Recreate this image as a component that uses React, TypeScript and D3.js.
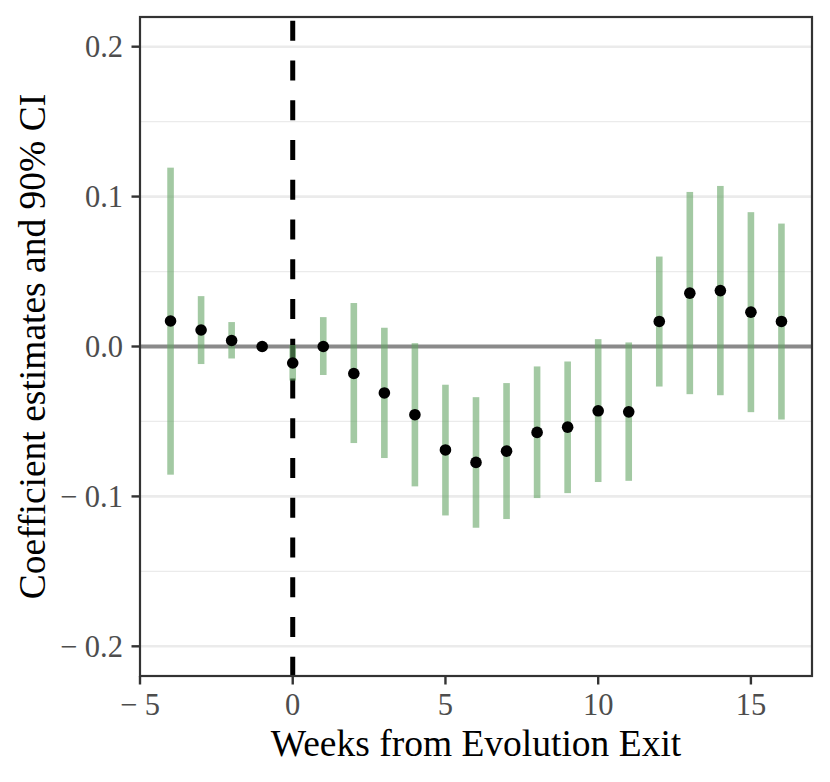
import React, { useRef, useEffect } from "react";
import * as d3 from "d3";

// event-study coefficients, week -1 is the reference period
const weeks = [-4, -3, -2, -1, 0, 1, 2, 3, 4, 5, 6, 7, 8, 9, 10, 11, 12, 13, 14, 15, 16];
const estimate = [
  0.017, 0.011, 0.004, 0, -0.011, 0, -0.018, -0.031, -0.0455, -0.069, -0.0773,
  -0.0698, -0.0573, -0.0538, -0.0429, -0.0436, 0.0167, 0.0356, 0.0373, 0.0229, 0.0167,
];
const lower = [
  -0.0855, -0.0117, -0.008, null, -0.0227, -0.019, -0.0644, -0.0744, -0.0933, -0.1127,
  -0.1209, -0.1151, -0.1011, -0.0978, -0.0904, -0.0896, -0.0267, -0.0318, -0.0325,
  -0.0438, -0.0487,
];
const upper = [
  0.1193, 0.0336, 0.0163, null, 0.001, 0.0196, 0.029, 0.0125, 0.0022, -0.0255, -0.0338,
  -0.0244, -0.0133, -0.01, 0.0049, 0.0027, 0.06, 0.1031, 0.1071, 0.0896, 0.082,
];
const xTicks = [-5, 0, 5, 10, 15];
const yTicks = [-0.2, -0.1, 0, 0.1, 0.2];
const yMinor = [-0.15, -0.05, 0.05, 0.15];

const FONT = "'Liberation Serif', 'DejaVu Serif', serif";

function fmtNum(v: number, digits: number) {
  const s = Math.abs(v).toFixed(digits);
  return v < 0 ? "\u2212 " + s : s;
}

export default function App() {
  const svgRef = useRef<SVGSVGElement>(null);

  useEffect(() => {
    if (!svgRef.current) return;
    const svg = d3.select(svgRef.current);
    svg.selectAll("*").remove();

    const width = 830;
    const height = 782;
    const margin = { top: 17, right: 18, bottom: 106, left: 140 };
    const w = width - margin.left - margin.right;
    const h = height - margin.top - margin.bottom;

    svg.attr("width", width).attr("height", height);
    svg.append("rect").attr("width", width).attr("height", height).attr("fill", "#fff");

    const x = d3.scaleLinear().domain([-5, 17]).range([0, w]);
    const y = d3.scaleLinear().domain([-0.2198, 0.2198]).range([h, 0]);

    const g = svg.append("g").attr("transform", `translate(${margin.left},${margin.top})`);

    // grid
    g.append("g")
      .selectAll("line")
      .data(yMinor)
      .enter()
      .append("line")
      .attr("x1", 0)
      .attr("x2", w)
      .attr("y1", (d) => y(d))
      .attr("y2", (d) => y(d))
      .attr("stroke", "#ebebeb")
      .attr("stroke-width", 1.3);
    g.append("g")
      .selectAll("line")
      .data(yTicks)
      .enter()
      .append("line")
      .attr("x1", 0)
      .attr("x2", w)
      .attr("y1", (d) => y(d))
      .attr("y2", (d) => y(d))
      .attr("stroke", "#ebebeb")
      .attr("stroke-width", 2.6);

    // zero line
    g.append("line")
      .attr("x1", 0)
      .attr("x2", w)
      .attr("y1", y(0))
      .attr("y2", y(0))
      .attr("stroke", "#8a8a8a")
      .attr("stroke-width", 4);

    // event line
    g.append("line")
      .attr("x1", x(0))
      .attr("x2", x(0))
      .attr("y1", 0)
      .attr("y2", h)
      .attr("stroke", "#000")
      .attr("stroke-width", 5)
      .attr("stroke-dasharray", "20 19.75")
      .attr("stroke-dashoffset", 36.05);

    // confidence intervals
    weeks.forEach((wk, i) => {
      const lo = lower[i];
      const hi = upper[i];
      if (lo == null || hi == null) return;
      g.append("rect")
        .attr("x", x(wk) - 3.3)
        .attr("width", 6.6)
        .attr("y", y(hi))
        .attr("height", y(lo) - y(hi))
        .attr("fill", "#65a565")
        .attr("opacity", 0.6);
    });

    // point estimates
    g.append("g")
      .selectAll("circle")
      .data(weeks)
      .enter()
      .append("circle")
      .attr("cx", (d) => x(d))
      .attr("cy", (_, i) => y(estimate[i]))
      .attr("r", 5.8)
      .attr("fill", "#000");

    // panel border
    g.append("rect")
      .attr("x", 0)
      .attr("y", 0)
      .attr("width", w)
      .attr("height", h)
      .attr("fill", "none")
      .attr("stroke", "#333")
      .attr("stroke-width", 2.2);

    // y axis ticks
    yTicks.forEach((t) => {
      g.append("line")
        .attr("x1", -8.5)
        .attr("x2", 0)
        .attr("y1", y(t))
        .attr("y2", y(t))
        .attr("stroke", "#333")
        .attr("stroke-width", 2.4);
      g.append("text")
        .attr("x", -17)
        .attr("y", y(t))
        .attr("dy", "0.34em")
        .attr("text-anchor", "end")
        .attr("fill", "#4d4d4d")
        .attr("font-size", "30.5px")
        .attr("font-family", FONT)
        .text(fmtNum(t, 1));
    });

    // x axis ticks
    xTicks.forEach((t) => {
      g.append("line")
        .attr("x1", x(t))
        .attr("x2", x(t))
        .attr("y1", h)
        .attr("y2", h + 8.5)
        .attr("stroke", "#333")
        .attr("stroke-width", 2.4);
      g.append("text")
        .attr("x", x(t))
        .attr("y", h + 39)
        .attr("text-anchor", "middle")
        .attr("fill", "#4d4d4d")
        .attr("font-size", "30.5px")
        .attr("font-family", FONT)
        .text(fmtNum(t, 0));
    });

    // axis titles
    svg.append("text")
      .attr("x", margin.left + w / 2)
      .attr("y", 756)
      .attr("text-anchor", "middle")
      .attr("fill", "#000")
      .attr("font-size", "37.5px")
      .attr("font-family", FONT)
      .text("Weeks from Evolution Exit");

    svg.append("text")
      .attr("transform", `translate(45,${margin.top + h / 2}) rotate(-90)`)
      .attr("text-anchor", "middle")
      .attr("fill", "#000")
      .attr("font-size", "37.5px")
      .attr("font-family", FONT)
      .text("Coefficient estimates and 90% CI");
  }, []);

  return (
    <div style={{ position: "absolute", left: 0, top: 0 }}>
      <svg ref={svgRef} style={{ display: "block" }} />
    </div>
  );
}
